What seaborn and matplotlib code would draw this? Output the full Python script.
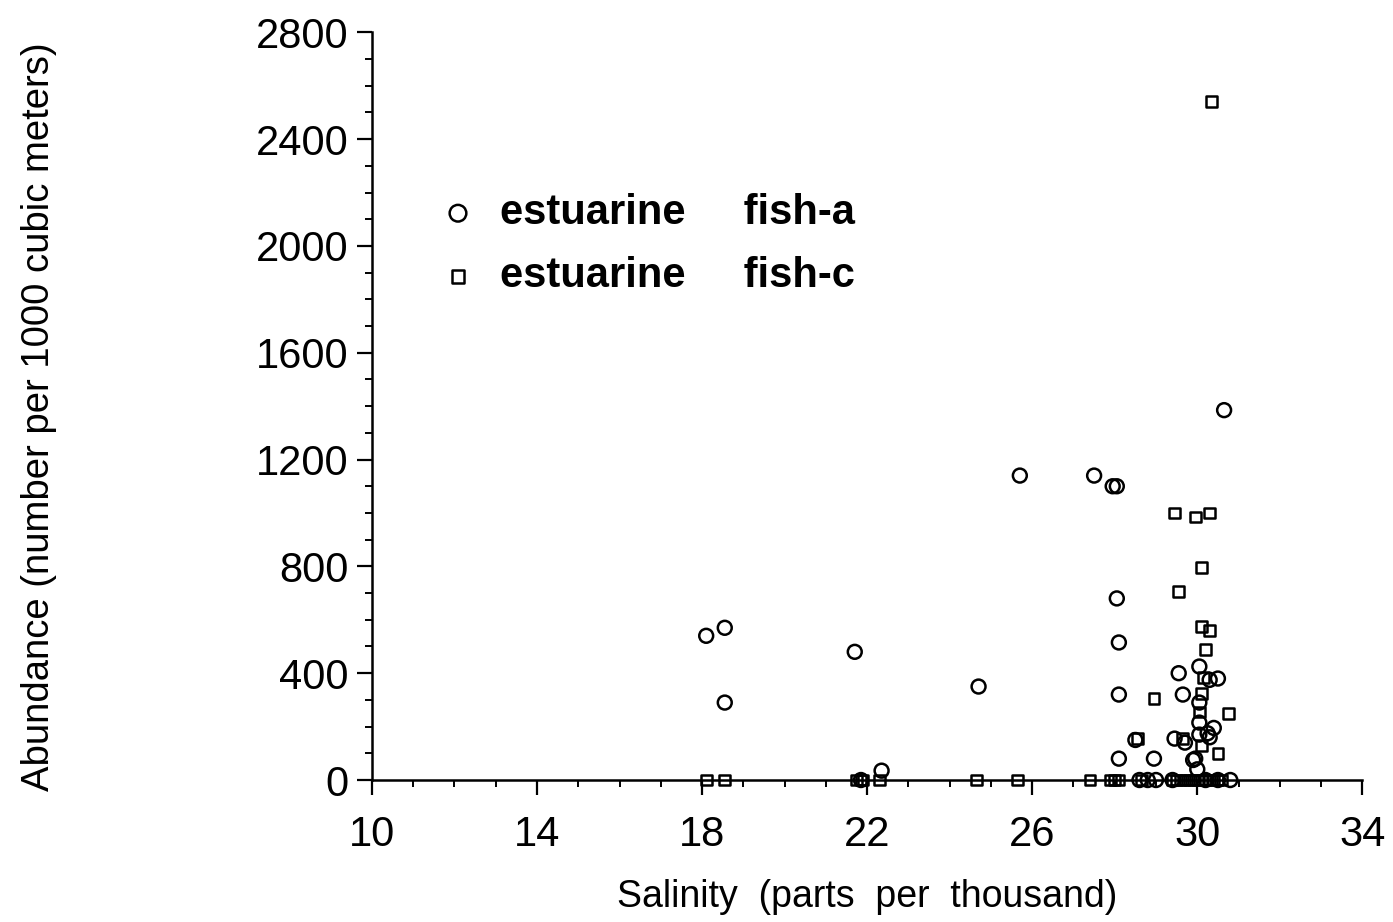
import numpy as np
import pandas as pd
import seaborn as sns
import matplotlib.pyplot as plt
from matplotlib.ticker import MultipleLocator

sns.set_style("ticks")
plt.rcParams['font.family'] = ['Liberation Sans', 'DejaVu Sans']
plt.rcParams['text.color'] = 'black'
plt.rcParams['axes.labelcolor'] = 'black'
plt.rcParams['xtick.color'] = 'black'
plt.rcParams['ytick.color'] = 'black'

# estuarine fish-a (circles)
sal_a = [18.1, 18.55, 18.55, 21.7, 21.85, 22.35, 24.7, 25.7, 27.5, 27.95,
         28.05, 28.05, 28.1, 28.1, 28.1, 28.5, 28.6, 28.8, 28.95, 29.0,
         29.4, 29.45, 29.55, 29.65, 29.7, 29.9, 29.95, 30.0, 30.05, 30.05,
         30.05, 30.05, 30.2, 30.25, 30.3, 30.3, 30.4, 30.5, 30.5, 30.65, 30.8]
abund_a = [540, 570, 290, 480, 0, 35, 350, 1140, 1140, 1100,
           1100, 680, 515, 320, 80, 150, 0, 0, 80, 0,
           0, 155, 400, 320, 140, 75, 80, 40, 425, 290,
           215, 170, 0, 175, 375, 160, 195, 380, 0, 1385, 0]

# estuarine fish-c (squares)
sal_c = [18.1, 18.55, 21.75, 21.85, 21.9, 22.3, 24.65, 25.65, 27.4, 27.9,
         28.0, 28.1, 28.65, 29.4, 29.5, 29.6, 29.7, 29.8, 29.9, 30.0,
         30.1, 30.2, 30.3, 30.4, 30.5, 30.6,
         29.45, 29.95, 30.3, 30.1, 29.55, 30.1, 30.3, 30.2, 30.15, 30.1,
         28.95, 30.75, 30.05, 30.1, 30.5, 28.55, 29.65, 30.35]
abund_c = [0, 0, 0, 0, 0, 0, 0, 0, 0, 0,
           0, 0, 0, 0, 0, 0, 0, 0, 0, 0,
           0, 0, 0, 0, 0, 0,
           1000, 985, 1000, 795, 705, 575, 560, 490, 385, 325,
           305, 250, 255, 130, 100, 155, 155, 2540]

x_ticks = [10, 14, 18, 22, 26, 30, 34]
y_ticks = [0, 400, 800, 1200, 1600, 2000, 2400, 2800]

df_a = pd.DataFrame({'Salinity': sal_a, 'Abundance': abund_a})
df_c = pd.DataFrame({'Salinity': sal_c, 'Abundance': abund_c})

fig = plt.figure(figsize=(13.93, 9.22), dpi=100)
ax = fig.add_axes([0.267, 0.154, 0.711, 0.811])

sns.scatterplot(x='Salinity', y='Abundance', data=df_a, ax=ax, marker='o', s=100,
                color='black', facecolor='none', edgecolor='black', linewidth=1.8,
                label='estuarine     fish-a', zorder=3, clip_on=False)
sns.scatterplot(x='Salinity', y='Abundance', data=df_c, ax=ax, marker='s', s=60,
                color='black', facecolor='none', edgecolor='black', linewidth=1.8,
                label='estuarine     fish-c', zorder=3, clip_on=False)

ax.set_xlim(10, 34)
ax.set_ylim(0, 2800)
ax.set_xticks(x_ticks)
ax.set_yticks(y_ticks)
ax.xaxis.set_minor_locator(MultipleLocator(1))
ax.yaxis.set_minor_locator(MultipleLocator(100))
ax.tick_params(which='major', length=11, width=1.6, labelsize=30)
ax.tick_params(axis='x', which='major', pad=14)
ax.tick_params(axis='y', which='major', pad=6)
ax.tick_params(which='minor', length=5, width=1.4)
sns.despine(ax=ax)
for sp in ['left', 'bottom']:
    ax.spines[sp].set_linewidth(1.8)
    ax.spines[sp].set_color('black')

ax.set_xlabel("Salinity  (parts  per  thousand)", fontsize=27)
ax.set_ylabel("Abundance (number per 1000 cubic meters)", fontsize=27.5)
ax.xaxis.set_label_coords(0.5, -0.133)
ax.yaxis.set_label_coords(-0.318, 0.486)

ax.legend(loc='upper left', bbox_to_anchor=(0.028, 0.835), frameon=False,
          prop={'weight': 'bold', 'size': 30}, handletextpad=0.5, labelspacing=0.55,
          markerscale=1.2, handlelength=1.0)

plt.savefig('out.png', dpi=100, facecolor='white')
